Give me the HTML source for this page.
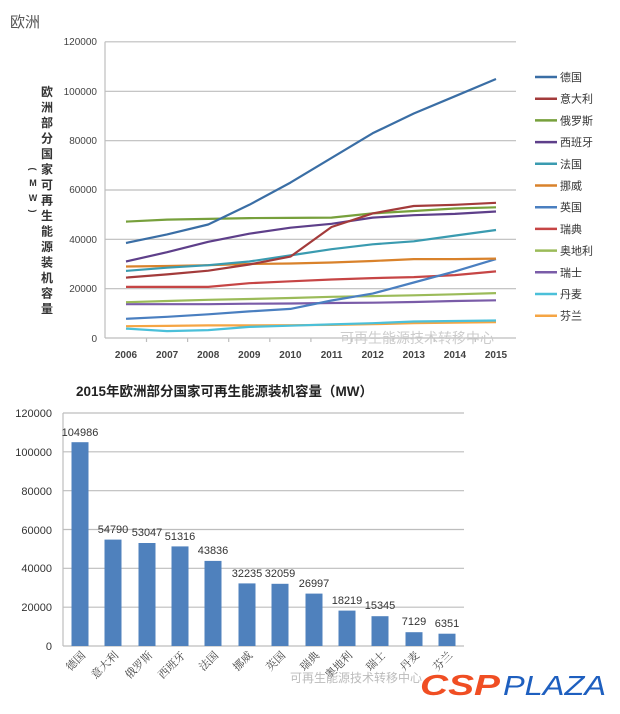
<!DOCTYPE html>
<html><head><meta charset="utf-8"><style>
html,body{margin:0;padding:0;background:#fff;}
svg{display:block;font-family:"Liberation Sans","Noto Sans CJK SC",sans-serif;}
</style></head><body>
<svg width="620" height="714" viewBox="0 0 620 714" xmlns="http://www.w3.org/2000/svg">
<text x="10" y="27" font-size="15" fill="#555">欧洲</text>
<!-- top chart grid -->
<g stroke="#bdbdbd" stroke-width="1.2">
<line x1="105" y1="41.8" x2="516" y2="41.8"/><line x1="105" y1="91.3" x2="516" y2="91.3"/>
<line x1="105" y1="140.7" x2="516" y2="140.7"/><line x1="105" y1="190" x2="516" y2="190"/>
<line x1="105" y1="239.3" x2="516" y2="239.3"/><line x1="105" y1="288.7" x2="516" y2="288.7"/>
<line x1="105" y1="338" x2="516" y2="338"/><line x1="105" y1="41.8" x2="105" y2="338"/>
<line x1="146.5" y1="338" x2="146.5" y2="342"/><line x1="187.6" y1="338" x2="187.6" y2="342"/><line x1="228.7" y1="338" x2="228.7" y2="342"/><line x1="269.8" y1="338" x2="269.8" y2="342"/><line x1="310.9" y1="338" x2="310.9" y2="342"/><line x1="352" y1="338" x2="352" y2="342"/><line x1="393.1" y1="338" x2="393.1" y2="342"/><line x1="434.2" y1="338" x2="434.2" y2="342"/><line x1="475.3" y1="338" x2="475.3" y2="342"/>
</g>
<g font-size="10" fill="#444" text-anchor="end">
<text x="97" y="45">120000</text><text x="97" y="95">100000</text><text x="97" y="144">80000</text>
<text x="97" y="193">60000</text><text x="97" y="243">40000</text><text x="97" y="292">20000</text><text x="97" y="342">0</text>
</g>
<g font-size="10" fill="#444" text-anchor="middle" font-weight="bold">
<text x="126" y="358">2006</text><text x="167.1" y="358">2007</text><text x="208.2" y="358">2008</text><text x="249.3" y="358">2009</text><text x="290.4" y="358">2010</text><text x="331.6" y="358">2011</text><text x="372.7" y="358">2012</text><text x="413.8" y="358">2013</text><text x="454.9" y="358">2014</text><text x="496" y="358">2015</text>
</g>
<g font-size="12" font-weight="bold" fill="#333" text-anchor="middle">
<text x="47" y="96">欧</text><text x="47" y="111.5">洲</text><text x="47" y="127">部</text><text x="47" y="142.5">分</text><text x="47" y="158">国</text><text x="47" y="173.5">家</text><text x="47" y="189">可</text><text x="47" y="204.5">再</text><text x="47" y="220">生</text><text x="47" y="235.5">能</text><text x="47" y="251">源</text><text x="47" y="266.5">装</text><text x="47" y="282">机</text><text x="47" y="297.5">容</text><text x="47" y="313">量</text>
</g>
<g font-size="9" font-weight="bold" fill="#333" text-anchor="middle">
<text x="33" y="172" transform="rotate(90 33 169)">(</text><text x="33" y="186">M</text><text x="33" y="201">W</text><text x="33" y="214" transform="rotate(90 33 211)">)</text>
</g>
<text x="340" y="343" font-size="14" fill="#ccc">可再生能源技术转移中心</text>
<g fill="none" stroke-width="2.2" stroke-linejoin="round" transform="translate(-0.97,0) scale(0.99196,1)">
<polyline stroke="#f5a544" points="128,326.2 169.4,325.9 210.9,325.4 252.3,325.4 293.8,325.2 335.2,324.9 376.6,324.2 418.1,323.2 459.5,322.7 501,322.2"/>
<polyline stroke="#4bc0d9" points="128,328.6 169.4,331.1 210.9,330.1 252.3,326.9 293.8,325.7 335.2,324.4 376.6,323.2 418.1,321.5 459.5,321 501,320.5"/>
<polyline stroke="#7a5ca8" points="128,304.2 169.4,304.2 210.9,304.2 252.3,303.7 293.8,303.5 335.2,303 376.6,302.7 418.1,302 459.5,301 501,300.3"/>
<polyline stroke="#9bbb59" points="128,302.2 169.4,301 210.9,299.8 252.3,299 293.8,298 335.2,296.8 376.6,296.1 418.1,295.3 459.5,294.3 501,293.1"/>
<polyline stroke="#c64545" points="128,286.9 169.4,286.9 210.9,286.9 252.3,283.2 293.8,281.3 335.2,279.5 376.6,278.1 418.1,277.1 459.5,275.1 501,271.4"/>
<polyline stroke="#4a7fc0" points="128,318.8 169.4,316.8 210.9,314.3 252.3,311.4 293.8,308.9 335.2,300.5 376.6,293.6 418.1,282.5 459.5,271.4 501,259.1"/>
<polyline stroke="#d9822b" points="128,266.5 169.4,266 210.9,265.2 252.3,264 293.8,263.5 335.2,262.5 376.6,261 418.1,259.1 459.5,259.1 501,258.6"/>
<polyline stroke="#3a9bb0" points="128,270.9 169.4,267.7 210.9,265.2 252.3,261.5 293.8,255.4 335.2,249.2 376.6,244.3 418.1,241.3 459.5,235.6 501,230"/>
<polyline stroke="#5e3f8a" points="128,261.5 169.4,252.2 210.9,241.8 252.3,233.7 293.8,227.7 335.2,223.8 376.6,217.6 418.1,215.2 459.5,213.9 501,211.5"/>
<polyline stroke="#77a03c" points="128,221.6 169.4,219.6 210.9,218.9 252.3,218.1 293.8,217.9 335.2,217.6 376.6,213.4 418.1,211 459.5,208.5 501,207.3"/>
<polyline stroke="#a33b3b" points="128,277.6 169.4,274.4 210.9,270.7 252.3,264.5 293.8,256.6 335.2,227 376.6,213.4 418.1,206 459.5,204.8 501,202.8"/>
<polyline stroke="#3a6ea5" points="128,243 169.4,234.4 210.9,224.5 252.3,204.8 293.8,182.6 335.2,157.9 376.6,133.3 418.1,113.5 459.5,96.3 501,79"/>
</g>
<g stroke-width="2.5">
<line x1="535" y1="77" x2="557" y2="77" stroke="#3a6ea5"/>
<line x1="535" y1="98.7" x2="557" y2="98.7" stroke="#a33b3b"/>
<line x1="535" y1="120.4" x2="557" y2="120.4" stroke="#77a03c"/>
<line x1="535" y1="142.1" x2="557" y2="142.1" stroke="#5e3f8a"/>
<line x1="535" y1="163.8" x2="557" y2="163.8" stroke="#3a9bb0"/>
<line x1="535" y1="185.5" x2="557" y2="185.5" stroke="#d9822b"/>
<line x1="535" y1="207.2" x2="557" y2="207.2" stroke="#4a7fc0"/>
<line x1="535" y1="228.9" x2="557" y2="228.9" stroke="#c64545"/>
<line x1="535" y1="250.6" x2="557" y2="250.6" stroke="#9bbb59"/>
<line x1="535" y1="272.3" x2="557" y2="272.3" stroke="#7a5ca8"/>
<line x1="535" y1="294" x2="557" y2="294" stroke="#4bc0d9"/>
<line x1="535" y1="315.7" x2="557" y2="315.7" stroke="#f5a544"/>
</g>
<g font-size="11" fill="#333">
<text x="560" y="81">德国</text><text x="560" y="102.7">意大利</text><text x="560" y="124.4">俄罗斯</text><text x="560" y="146.1">西班牙</text><text x="560" y="167.8">法国</text><text x="560" y="189.5">挪威</text><text x="560" y="211.2">英国</text><text x="560" y="232.9">瑞典</text><text x="560" y="254.6">奥地利</text><text x="560" y="276.3">瑞士</text><text x="560" y="298">丹麦</text><text x="560" y="319.7">芬兰</text>
</g>
<!-- bottom chart -->
<text x="76" y="396" font-size="13.5" font-weight="bold" fill="#222">2015年欧洲部分国家可再生能源装机容量（MW）</text>
<g stroke="#bdbdbd" stroke-width="1.2">
<line x1="63" y1="413" x2="464" y2="413"/><line x1="63" y1="451.8" x2="464" y2="451.8"/><line x1="63" y1="490.7" x2="464" y2="490.7"/><line x1="63" y1="529.5" x2="464" y2="529.5"/><line x1="63" y1="568.3" x2="464" y2="568.3"/><line x1="63" y1="607.2" x2="464" y2="607.2"/><line x1="63" y1="646" x2="464" y2="646"/><line x1="63" y1="413" x2="63" y2="646"/>
</g>
<g font-size="11" fill="#333" text-anchor="end">
<text x="52" y="417">120000</text><text x="52" y="456">100000</text><text x="52" y="495">80000</text><text x="52" y="534">60000</text><text x="52" y="572">40000</text><text x="52" y="611">20000</text><text x="52" y="650">0</text>
</g>
<g fill="#4f81bd">
<rect x="71.5" y="442.2" width="17" height="203.8"/><rect x="104.5" y="539.6" width="17" height="106.4"/><rect x="138.5" y="543" width="17" height="103"/><rect x="171.5" y="546.4" width="17" height="99.6"/><rect x="204.5" y="560.9" width="17" height="85.1"/><rect x="238.5" y="583.4" width="17" height="62.6"/><rect x="271.5" y="583.8" width="17" height="62.2"/><rect x="305.5" y="593.6" width="17" height="52.4"/><rect x="338.5" y="610.6" width="17" height="35.4"/><rect x="371.5" y="616.2" width="17" height="29.8"/><rect x="405.5" y="632.2" width="17" height="13.8"/><rect x="438.5" y="633.7" width="17" height="12.3"/>
</g>
<g font-size="11" fill="#333" text-anchor="middle">
<text x="80" y="436">104986</text><text x="113" y="533">54790</text><text x="147" y="536">53047</text><text x="180" y="540">51316</text><text x="213" y="554">43836</text><text x="247" y="577">32235</text><text x="280" y="577">32059</text><text x="314" y="587">26997</text><text x="347" y="604">18219</text><text x="380" y="609">15345</text><text x="414" y="625">7129</text><text x="447" y="627">6351</text>
</g>
<g font-size="11" fill="#444" text-anchor="end" font-family="Liberation Serif,Noto Serif CJK SC,serif">
<text transform="translate(86,656) rotate(-45)">德国</text><text transform="translate(119,656) rotate(-45)">意大利</text><text transform="translate(153,656) rotate(-45)">俄罗斯</text><text transform="translate(186,656) rotate(-45)">西班牙</text><text transform="translate(219,656) rotate(-45)">法国</text><text transform="translate(253,656) rotate(-45)">挪威</text><text transform="translate(286,656) rotate(-45)">英国</text><text transform="translate(320,656) rotate(-45)">瑞典</text><text transform="translate(353,656) rotate(-45)">奥地利</text><text transform="translate(386,656) rotate(-45)">瑞士</text><text transform="translate(420,656) rotate(-45)">丹麦</text><text transform="translate(453,656) rotate(-45)">芬兰</text>
</g>
<text x="290" y="682" font-size="12" fill="#bbb">可再生能源技术转移中心</text>
<text x="420" y="695" font-size="29" font-weight="bold" font-style="italic" fill="#f04e23" textLength="80" lengthAdjust="spacingAndGlyphs">CSP</text>
<text x="503" y="695" font-size="28" font-style="italic" fill="#1e5fbf" textLength="103" lengthAdjust="spacingAndGlyphs">PLAZA</text>
</svg>
</body></html>
